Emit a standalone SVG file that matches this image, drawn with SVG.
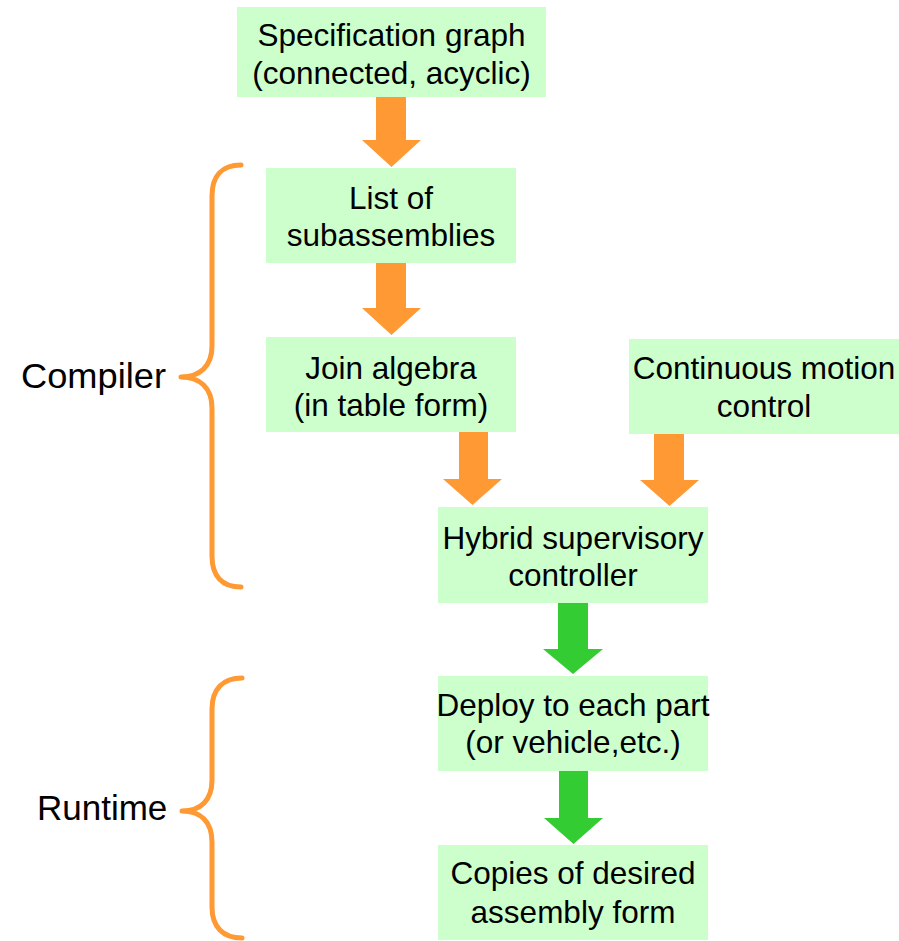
<svg xmlns="http://www.w3.org/2000/svg" width="899" height="941" viewBox="0 0 899 941">
<style>
.box{fill:#ccffcc}
.t{font-family:"Liberation Sans",Arial,sans-serif;font-size:31.5px;fill:#000;text-anchor:middle}
.lbl{font-family:"Liberation Sans",Arial,sans-serif;font-size:35px;fill:#000}
.oa{fill:#ff9933}
.ga{fill:#33cc33}
.brace{fill:none;stroke:#ff9933;stroke-width:5;stroke-linecap:round;stroke-linejoin:round}
</style>
<rect width="899" height="941" fill="#fff"/>
<g id="n-spec"><rect class="box" x="237" y="7" width="309" height="90"/><text class="t" x="391.5" y="46">Specification graph</text><text class="t" x="391.5" y="83.5">(connected, acyclic)</text></g>
<g id="n-list"><rect class="box" x="266" y="168" width="250" height="95"/><text class="t" x="391" y="208.5">List of</text><text class="t" x="391" y="245.5">subassemblies</text></g>
<g id="n-join"><rect class="box" x="266" y="337" width="250" height="95"/><text class="t" x="391" y="378.5">Join algebra</text><text class="t" x="391" y="415.5">(in table form)</text></g>
<g id="n-cont"><rect class="box" x="629" y="339" width="270" height="95"/><text class="t" x="764" y="378.5">Continuous motion</text><text class="t" x="764" y="416.5">control</text></g>
<g id="n-hybrid"><rect class="box" x="438" y="507" width="270" height="96"/><text class="t" x="573" y="548.5">Hybrid supervisory</text><text class="t" x="573" y="585.5">controller</text></g>
<g id="n-deploy"><rect class="box" x="438" y="676" width="270" height="95"/><text class="t" x="573" y="715.5">Deploy to each part</text><text class="t" x="573" y="752.5">(or vehicle,etc.)</text></g>
<g id="n-copies"><rect class="box" x="438" y="845" width="270" height="95"/><text class="t" x="573" y="884">Copies of desired</text><text class="t" x="573" y="922.5">assembly form</text></g>
<g id="connectors">
<polygon class="oa" points="376,97 406,97 406,140 421,140 391.5,167 362,140 376,140"/>
<polygon class="oa" points="376,263 406,263 406,308 421,308 391.5,335 362,308 376,308"/>
<polygon class="oa" points="459,432 488,432 488,479 502,479 472.5,505 443,479 459,479"/>
<polygon class="oa" points="654,434 684,434 684,480 699,480 669.5,506 640,480 654,480"/>
<polygon class="ga" points="558,603 588,603 588,649 603,649 573,674 543,649 558,649"/>
<polygon class="ga" points="559,771 588,771 588,818 603,818 573.5,844 544,818 559,818"/>
</g>
<g id="compiler">
<path class="brace" d="M241,165 C222,165 212,176 212,196 L212,346 C212,366 200,377 181,377 C200,377 212,388 212,408 L212,556 C212,576 222,587 241,587"/>
<text class="lbl" x="21" y="388" textLength="145" lengthAdjust="spacingAndGlyphs">Compiler</text>
</g>
<g id="runtime">
<path class="brace" d="M242,678 C223,678 212,689 212,709 L212,780 C212,800 201,811 182,811 C201,811 212,822 212,842 L212,907 C212,927 223,938 242,938"/>
<text class="lbl" x="37" y="820">Runtime</text>
</g>
</svg>
